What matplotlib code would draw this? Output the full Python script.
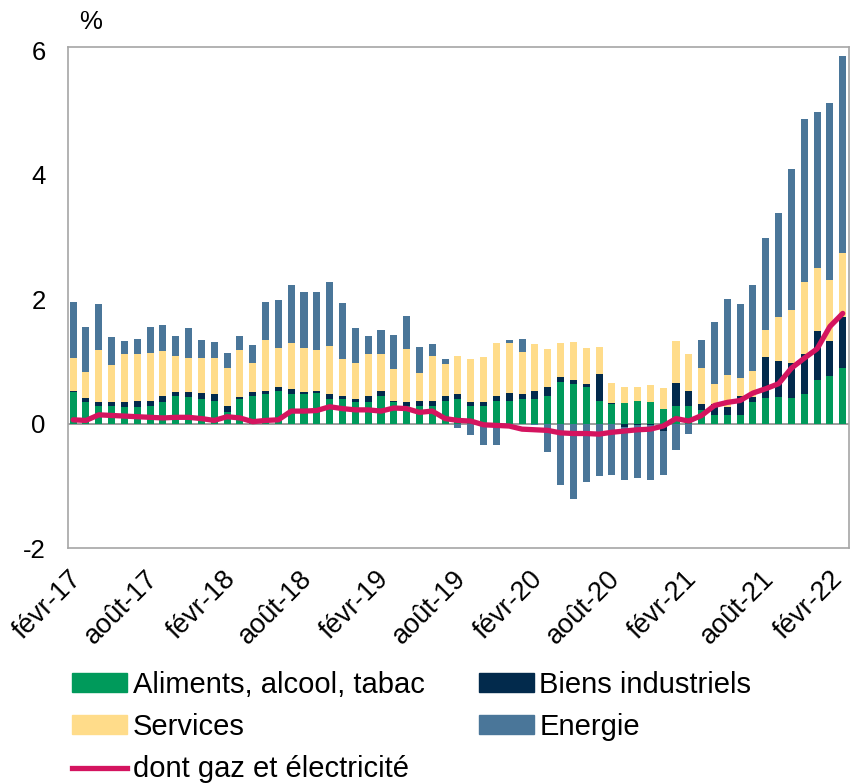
import matplotlib
matplotlib.use("Agg")
import matplotlib.pyplot as plt
import matplotlib.transforms as mtransforms
import numpy as np
from matplotlib.patches import Patch
from matplotlib.lines import Line2D

plt.rcParams['font.family'] = ['Liberation Sans', 'DejaVu Sans']

# months from févr-17 to févr-22 (61 values)
aliments = [0.50, 0.34, 0.29, 0.29, 0.26, 0.26, 0.28, 0.35, 0.45, 0.42,
            0.40, 0.37, 0.19, 0.40, 0.45, 0.48, 0.52, 0.48, 0.47, 0.49,
            0.40, 0.40, 0.35, 0.35, 0.44, 0.34, 0.28, 0.28, 0.29, 0.36,
            0.39, 0.28, 0.28, 0.36, 0.37, 0.39, 0.40, 0.45, 0.66, 0.63,
            0.59, 0.37, 0.32, 0.33, 0.37, 0.35, 0.24, 0.29, 0.28, 0.22,
            0.14, 0.13, 0.13, 0.34, 0.41, 0.42, 0.41, 0.48, 0.70, 0.76,
            0.89]
biens = [0.03, 0.07, 0.05, 0.06, 0.09, 0.10, 0.08, 0.10, 0.06, 0.08,
         0.09, 0.11, 0.10, 0.03, 0.06, 0.04, 0.07, 0.08, 0.04, 0.04,
         0.08, 0.04, 0.04, 0.09, 0.08, 0.03, 0.06, 0.08, 0.07, 0.08,
         0.08, 0.06, 0.07, 0.09, 0.12, 0.08, 0.13, 0.13, 0.09, 0.07,
         0.05, 0.42, 0.01, -0.05, -0.02, -0.03, -0.12, 0.36, 0.25, 0.10,
         0.18, 0.13, 0.32, 0.08, 0.66, 0.58, 0.56, 0.64, 0.78, 0.56,
         0.82]
services = [0.53, 0.42, 0.84, 0.59, 0.76, 0.76, 0.77, 0.72, 0.57, 0.56,
            0.56, 0.57, 0.60, 0.75, 0.46, 0.82, 0.62, 0.74, 0.70, 0.65,
            0.77, 0.60, 0.58, 0.68, 0.60, 0.51, 0.86, 0.46, 0.72, 0.52,
            0.62, 0.69, 0.72, 0.85, 0.80, 0.68, 0.75, 0.62, 0.55, 0.61,
            0.58, 0.44, 0.32, 0.26, 0.21, 0.27, 0.33, 0.68, 0.58, 0.57,
            0.32, 0.52, 0.28, 0.43, 0.44, 0.72, 0.86, 1.16, 1.02, 0.99,
            1.03]
energie = [0.90, 0.72, 0.74, 0.45, 0.21, 0.24, 0.42, 0.41, 0.32, 0.48,
           0.30, 0.26, 0.24, 0.23, 0.29, 0.62, 0.78, 0.92, 0.90, 0.93,
           1.03, 0.90, 0.57, 0.29, 0.38, 0.54, 0.53, 0.41, 0.20, 0.08,
           -0.07, -0.19, -0.34, -0.35, 0.05, 0.21, -0.02, -0.46, -0.98, -1.22,
           -0.94, -0.85, -0.82, -0.86, -0.86, -0.88, -0.71, -0.43, -0.16, 0.46,
           0.99, 1.22, 1.19, 1.37, 1.47, 1.67, 2.26, 2.61, 2.51, 2.84,
           3.17]
gaz_elec = [0.06, 0.05, 0.14, 0.13, 0.12, 0.11, 0.10, 0.09, 0.10, 0.10,
            0.08, 0.05, 0.11, 0.09, 0.03, 0.05, 0.06, 0.20, 0.20, 0.21,
            0.27, 0.24, 0.22, 0.22, 0.20, 0.25, 0.24, 0.18, 0.20, 0.08,
            0.05, 0.04, -0.02, -0.03, -0.04, -0.09, -0.10, -0.11, -0.15, -0.16,
            -0.16, -0.17, -0.14, -0.12, -0.10, -0.09, -0.04, 0.08, 0.04, 0.13,
            0.29, 0.34, 0.37, 0.49, 0.56, 0.64, 0.89, 1.05, 1.20, 1.56,
            1.77]
tick_labels = ["févr-17", "août-17", "févr-18", "août-18", "févr-19", "août-19",
               "févr-20", "août-20", "févr-21", "août-21", "févr-22"]

series = [("Aliments, alcool, tabac", aliments, "#009a5b"),
          ("Biens industriels", biens, "#022a4c"),
          ("Services", services, "#ffdc8a"),
          ("Energie", energie, "#4a7699")]
line_color = "#d4145f"

fig = plt.figure(figsize=(8.5, 7.84), dpi=100)
ax = fig.add_axes([0.08, 0.301, 0.919, 0.639])

x = np.arange(len(aliments))
pos_bottom = np.zeros(len(x))
neg_bottom = np.zeros(len(x))
# stack positive values upward and negative values downward
for name, vals, col in series:
    vals = np.array(vals)
    bottom = np.where(vals >= 0, pos_bottom, neg_bottom)
    ax.bar(x, vals, bottom=bottom, width=0.55, color=col, zorder=2)
    pos_bottom = pos_bottom + np.clip(vals, 0, None)
    neg_bottom = neg_bottom + np.clip(vals, None, 0)

ax.axhline(0, color="#8c8c8c", lw=1.2, zorder=1)
ax.plot(x, gaz_elec, color=line_color, lw=3.8, zorder=3, solid_capstyle="round")

ax.set_xlim(-0.4, 60.5)
ax.set_ylim(-2, 6.05)
ax.set_yticks([-2, 0, 2, 4, 6])
ax.set_yticklabels(["-2", "0", "2", "4", "6"], fontsize=18.5)
ax.set_xticks(np.arange(0, 61, 6))
ax.set_xticklabels(tick_labels, rotation=45, ha="right", va="top",
                   rotation_mode="anchor", fontsize=19.5)
ax.tick_params(axis="y", length=0, pad=16)
ax.tick_params(axis="x", length=0, pad=13)
# nudge rotated labels a little to the left (last one a bit more so it fits)
xlabels = ax.get_xticklabels()
for i, lab in enumerate(xlabels):
    dx = -0.13 if i == len(xlabels) - 1 else -0.05
    shift = mtransforms.ScaledTranslation(dx, 0, fig.dpi_scale_trans)
    lab.set_transform(lab.get_transform() + shift)
for s in ax.spines.values():
    s.set_color("#a6a6a6")
    s.set_linewidth(1.2)

fig.text(0.106, 0.972, "%", fontsize=18.5, ha="center", va="center")

handles = [Patch(color=series[0][2]), Patch(color=series[2][2]),
           Line2D([0], [0], color=line_color, lw=3.8),
           Patch(color=series[1][2]), Patch(color=series[3][2])]
labels = [series[0][0], series[2][0], "dont gaz et électricité",
          series[1][0], series[3][0]]
fig.legend(handles, labels, ncol=2, loc="lower left", bbox_to_anchor=(0.071, -0.014),
           frameon=False, fontsize=21, handlelength=1.9, handleheight=0.6,
           handletextpad=0.18, columnspacing=1.85, labelspacing=0.49, borderaxespad=0)

fig.savefig("out.png", dpi=100)
